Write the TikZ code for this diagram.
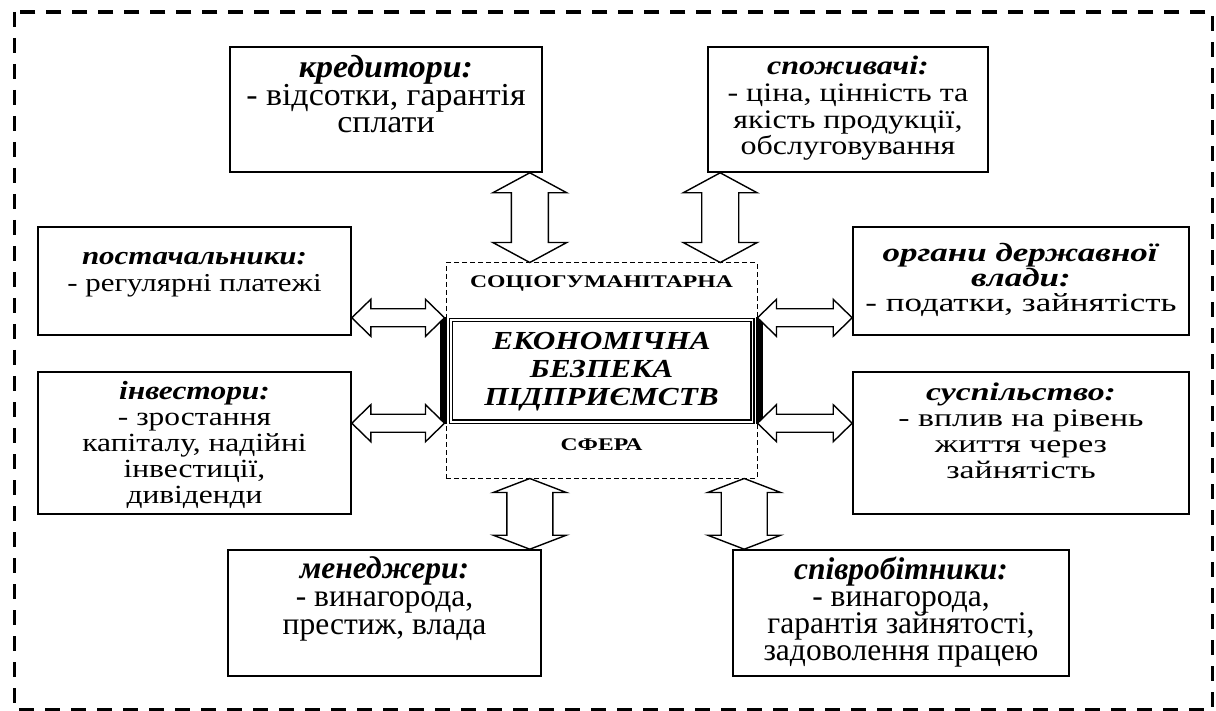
\documentclass[tikz,border=0pt]{standalone}
\usepackage{fontspec}
\setmainfont{Liberation Serif}
\newfontfamily\fA{Liberation Serif}
\newfontfamily\fD{Liberation Serif}[FakeStretch=1.06]
\newfontfamily\fB{Liberation Serif}[FakeStretch=1.2]
\newfontfamily\fC{Liberation Serif}[FakeStretch=1.33]
\usetikzlibrary{calc}
\newcommand{\ttl}[1]{\textbf{\textit{#1}}}
\newcommand{\bodyfont}[3]{#1\fontsize{#2}{#3}\selectfont\lineskiplimit=-30pt\relax}
\newcommand{\corefont}{\fB\bfseries\itshape\fontsize{26}{27.5}\selectfont\lineskiplimit=-30pt\relax}
\newcommand{\sphfont}{\fC\bfseries\fontsize{17.8}{20}\selectfont}
\tikzset{
  box/.style={draw, line width=1.6pt, inner sep=0pt},
  txt/.style={align=center, anchor=base, inner sep=0pt},
  arr/.style={draw, fill=white, line width=1.4pt, line join=miter},
  varrow/.style n args={3}{to path={
    let \p1=(\tikztostart), \p2=(\tikztotarget) in
    (\x1,\y1) -- (\x1+#2,\y1-#3) -- (\x1+#1,\y1-#3) -- (\x1+#1,\y2+#3) -- (\x1+#2,\y2+#3)
    -- (\x1,\y2) -- (\x1-#2,\y2+#3) -- (\x1-#1,\y2+#3) -- (\x1-#1,\y1-#3) -- (\x1-#2,\y1-#3) -- cycle}},
  harrow/.style n args={3}{to path={
    let \p1=(\tikztostart), \p2=(\tikztotarget) in
    (\x1,\y1) -- (\x1+#3,\y1+#2) -- (\x1+#3,\y1+#1) -- (\x2-#3,\y1+#1) -- (\x2-#3,\y1+#2)
    -- (\x2,\y1) -- (\x2-#3,\y1-#2) -- (\x2-#3,\y1-#1) -- (\x1+#3,\y1-#1) -- (\x1+#3,\y1-#2) -- cycle}},
}
\begin{document}
\begin{tikzpicture}[x=1pt,y=-1pt]
\useasboundingbox (0,0) rectangle (1216,711);
% outer dashed frame
\draw[line width=3.5pt, dash pattern=on 15pt off 11pt] (14.7,12) rectangle (1212.5,709.5);

% boxes
\node[box, minimum width=312pt, minimum height=125pt] (kred) at (386,109.5) {};
\node[box, minimum width=280pt, minimum height=125pt] (spoz) at (848,109.5) {};
\node[box, minimum width=313pt, minimum height=108pt] (post) at (194.5,281) {};
\node[box, minimum width=336pt, minimum height=108pt] (orh) at (1021,281) {};
\node[box, minimum width=313pt, minimum height=142pt] (inv) at (194.5,443) {};
\node[box, minimum width=336pt, minimum height=142pt] (susp) at (1021,443) {};
\node[box, minimum width=313pt, minimum height=126pt] (men) at (384.5,613) {};
\node[box, minimum width=336pt, minimum height=126pt] (spiv) at (901,613) {};

% sphere (dashed) and centre box
\node[draw, line width=1pt, dash pattern=on 5pt off 3pt, minimum width=311pt, minimum height=215pt, inner sep=0pt] (sphere) at (601.5,370.5) {};
\fill (440,317) rectangle (447,424);
\fill (756,317) rectangle (763,424);
\node[draw, line width=1.6pt, double, double distance=1.6pt, minimum width=301.5pt, minimum height=101.8pt, inner sep=0pt] (core) at (601.75,370.9) {};

% texts (anchor = baseline of the last line)
\node[txt, font=\bodyfont{\fD}{32}{27.5}] (kredt) at (386,133) {\ttl{кредитори:}\\- відсотки, гарантія\\сплати};
\node[txt, font=\bodyfont{\fB}{26.7}{26.7}] (spozt) at (848,155) {\ttl{споживачі:}\\- ціна, цінність та\\якість продукції,\\обслуговування};
\node[txt, font=\bodyfont{\fB}{25.8}{27}] (postt) at (194.5,292) {\ttl{постачальники:}\\- регулярні платежі};
\node[txt, font=\bodyfont{\fC}{26.3}{25}] (orht) at (1021,312) {\ttl{органи державної}\\\ttl{влади:}\\- податки, зайнятість};
\node[txt, font=\bodyfont{\fB}{26.2}{25.8}] (invt) at (194.5,503) {\ttl{інвестори:}\\- зростання\\капіталу, надійні\\інвестиції,\\дивіденди};
\node[txt, font=\bodyfont{\fC}{25.4}{26}] (suspt) at (1021,478) {\ttl{суспільство:}\\- вплив на рівень\\життя через\\зайнятість};
\node[txt, font=\bodyfont{\fA}{31.5}{28}] (ment) at (384.5,634) {\ttl{менеджери:}\\- винагорода,\\престиж, влада};
\node[txt, font=\bodyfont{\fA}{31.5}{27}] (spivt) at (901,660) {\ttl{співробітники:}\\- винагорода,\\гарантія зайнятості,\\задоволення працею};

\node[txt, font=\corefont] (coret) at (601.5,405) {ЕКОНОМІЧНА\\БЕЗПЕКА\\ПІДПРИЄМСТВ};
\node[txt, font=\sphfont] (soc) at (601.5,288) {СОЦІОГУМАНІТАРНА};
\node[txt, font=\sphfont] (sfera) at (601.5,450) {СФЕРА};

% vertical double arrows
\coordinate (t1) at ([xshift=-13pt]kred.south east);
\coordinate (t2) at ([xshift=13pt]spoz.south west);
\coordinate (b1) at ([xshift=-12pt]men.north east);
\coordinate (b2) at ([xshift=12pt]spiv.north west);
\draw[arr] (t1) to[varrow={18.5pt}{37pt}{20pt}] (t1 |- sphere.north);
\draw[arr] (t2) to[varrow={18.5pt}{37pt}{20pt}] (t2 |- sphere.north);
\draw[arr] (b1 |- sphere.south) to[varrow={23pt}{36.5pt}{14pt}] (b1);
\draw[arr] (b2 |- sphere.south) to[varrow={23pt}{36.5pt}{14pt}] (b2);

% horizontal double arrows
\coordinate (l1) at ([yshift=18pt]post.south east);
\coordinate (l2) at ([yshift=-52pt]inv.north east);
\draw[arr] (l1) to[harrow={9pt}{18.5pt}{19pt}] ([xshift=-1pt]l1 -| sphere.west);
\draw[arr] (l2) to[harrow={9pt}{18.5pt}{19pt}] ([xshift=-1pt]l2 -| sphere.west);
\coordinate (r1) at (sphere.east |- l1);
\coordinate (r2) at (sphere.east |- l2);
\draw[arr] (r1) to[harrow={9pt}{18.5pt}{19pt}] (r1 -| orh.west);
\draw[arr] (r2) to[harrow={9pt}{18.5pt}{19pt}] (r2 -| susp.west);
\end{tikzpicture}
\end{document}
